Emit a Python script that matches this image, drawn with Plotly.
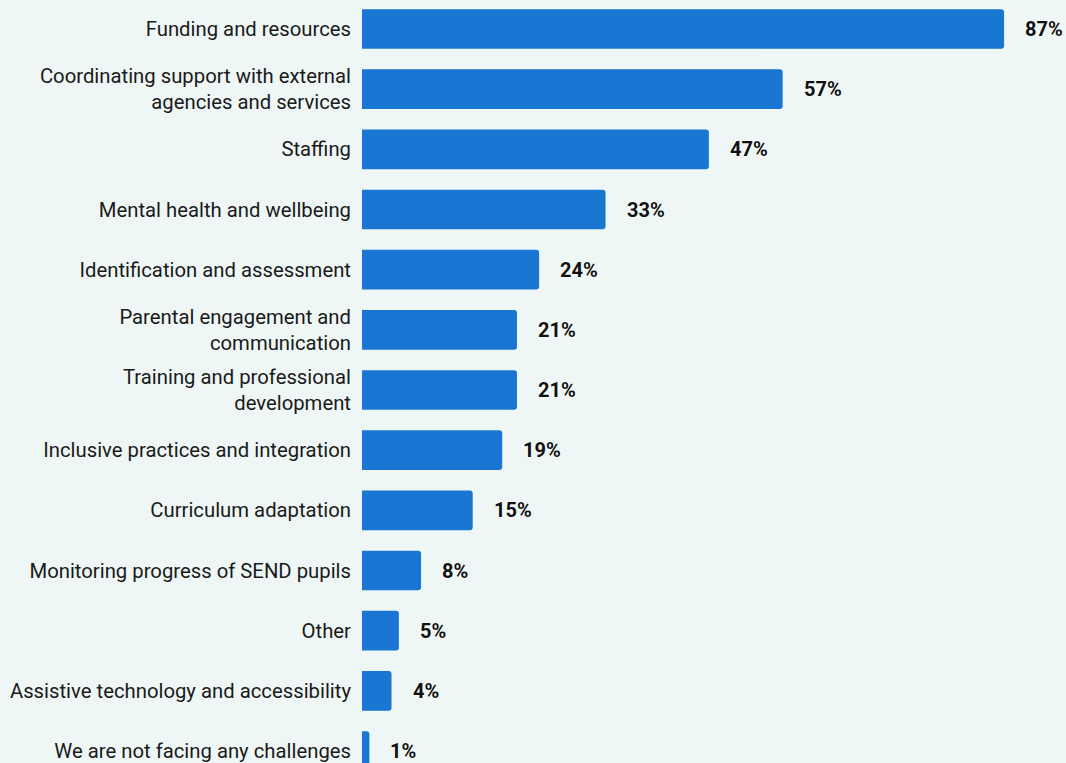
import plotly.graph_objects as go

categories = [
    "Funding and resources",
    "Coordinating support with external<br>agencies and services",
    "Staffing",
    "Mental health and wellbeing",
    "Identification and assessment",
    "Parental engagement and<br>communication",
    "Training and professional<br>development",
    "Inclusive practices and integration",
    "Curriculum adaptation",
    "Monitoring progress of SEND pupils",
    "Other",
    "Assistive technology and accessibility",
    "We are not facing any challenges",
]
values = [87, 57, 47, 33, 24, 21, 21, 19, 15, 8, 5, 4, 1]

BG = "#eef7f5"
BAR = "#1976d2"
FONT = "Roboto"

positions = list(range(len(categories)))

fig = go.Figure(
    go.Bar(
        x=values,
        y=positions,
        orientation="h",
        marker=dict(color=BAR, line=dict(width=0)),
        width=0.66,
        hoverinfo="skip",
    )
)

for pos, val in zip(positions, values):
    fig.add_annotation(
        x=val,
        y=pos,
        text=f"<b>{val}%</b>",
        showarrow=False,
        xanchor="left",
        yanchor="middle",
        xshift=19,
        font=dict(family=FONT, size=20, color="#111111", shadow="0px 0px 3px white"),
    )

W, H = 1066, 763
left = 362
px_per_unit = 7.38
px_per_cat = 60.17

fig.update_layout(
    width=W,
    height=H,
    margin=dict(l=left, r=0, t=0, b=0),
    paper_bgcolor=BG,
    plot_bgcolor=BG,
    barcornerradius=3,
    showlegend=False,
    font=dict(family=FONT, size=20.3, color="#1a1a1a"),
    xaxis=dict(
        range=[0, (W - left) / px_per_unit],
        visible=False,
        fixedrange=True,
    ),
    yaxis=dict(
        range=[12 + (H - 751) / px_per_cat, -29 / px_per_cat],
        tickmode="array",
        tickvals=positions,
        ticktext=categories,
        showgrid=False,
        zeroline=False,
        showline=False,
        ticks="",
        ticklabelstandoff=10,
        ticklabeloverflow="allow",
        automargin=False,
        tickfont=dict(family=FONT, size=20.3, color="#1a1a1a"),
        fixedrange=True,
    ),
)

fig.write_html("out.html")
